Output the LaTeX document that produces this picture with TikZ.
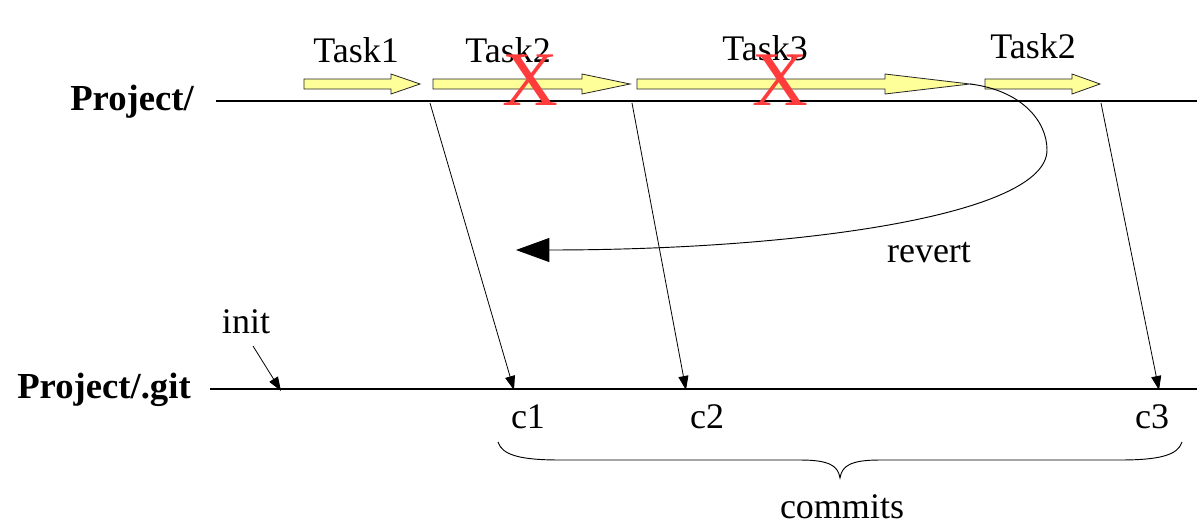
\documentclass[tikz,border=0pt]{standalone}
\usepackage{fontspec}
\setmainfont{Liberation Serif}
\usetikzlibrary{arrows.meta}

\definecolor{taskfill}{RGB}{255,255,153}
\definecolor{crossred}{RGB}{255,60,60}

% yellow block arrow: tail x, head-base x, tip x
\newcommand\taskarrow[3]{%
  \draw[taskshape] (#1,79) -- (#2,79) -- (#2,74) -- (#3,84) -- (#2,94)
    -- (#2,89) -- (#1,89) -- cycle;}

\begin{document}
\begin{tikzpicture}[x=0.75pt,y=-0.75pt,
  lbl/.style={font=\fontsize{27}{32}\selectfont, inner sep=0pt, anchor=base},
  head/.style={font=\bfseries\fontsize{27.5}{33}\selectfont, inner sep=0pt, anchor=base},
  cross/.style={font=\fontsize{58}{60}\selectfont, text=crossred, inner sep=0pt, anchor=base},
  track/.style={line width=0.9pt},
  commit/.style={line width=0.6pt, -{Triangle[length=10.5pt,width=7.5pt]}},
  taskshape/.style={draw=black!85, line width=0.6pt, fill=taskfill},
  bracepath/.style={line width=0.7pt}]
\useasboundingbox (0,0) rectangle (1197,525);

% working tree and repository tracks
\coordinate (pL) at (216,101);
\coordinate (pR) at (1197,101);
\coordinate (gL) at (210,389);
\coordinate (gR) at (1197,389);
\draw[track] (pL) -- (pR);
\draw[track] (gL) -- (gR);

\node[head] (proj) at (132,110) {Project/};
\node[head] (git) at (104,398) {Project/.git};

% tasks on the working tree
\taskarrow{304}{391}{420}
\taskarrow{433}{582}{630}
\taskarrow{637}{885}{970}
\taskarrow{985}{1072}{1100}

\node[lbl] (t1) at (356,62) {Task1};
\node[lbl] (t2) at (508,62) {Task2};
\node[lbl] (t3) at (765,60) {Task3};
\node[lbl] (t4) at (1033,58) {Task2};

\node[cross] (x1) at (530,105) {X};
\node[cross] (x2) at (780,105) {X};

% revert back to the state after Task1
\coordinate (rs) at (970,84);
\coordinate (rm) at (1047,150);
\coordinate (re) at (516,250);
\draw[line width=0.7pt, -{Triangle[length=25pt,width=18pt]}]
  (rs) .. controls (1020,90) and (1047,120) .. (rm)
       .. controls (1047,215) and (800,250) .. (re);
\node[lbl] (rev) at (929,262) {revert};

% commits
\coordinate (p1) at (430,103);
\coordinate (p2) at (632,103);
\coordinate (p3) at (1101,103);
\coordinate (g1) at (514,390);
\coordinate (g2) at (686,390);
\coordinate (g3) at (1159,390);
\draw[commit] (p1) -- (g1);
\draw[commit] (p2) -- (g2);
\draw[commit] (p3) -- (g3);

\coordinate (i0) at (253,346);
\coordinate (i1) at (281,391);
\draw[commit] (i0) -- (i1);
\node[lbl] (init) at (246,333) {init};

\node[lbl] (c1) at (528,428) {c1};
\node[lbl] (c2) at (707,428) {c2};
\node[lbl] (c3) at (1152,428) {c3};

% brace under the commits
\draw[bracepath] (498,442) .. controls (502,455) and (520,460) .. (560,460)
  -- (800,460) .. controls (830,460) and (838,466) .. (840,478)
  .. controls (842,466) and (850,460) .. (880,460)
  -- (1120,460) .. controls (1160,460) and (1178,455) .. (1182,442);
\node[lbl] (commits) at (842,518) {commits};
\end{tikzpicture}
\end{document}
